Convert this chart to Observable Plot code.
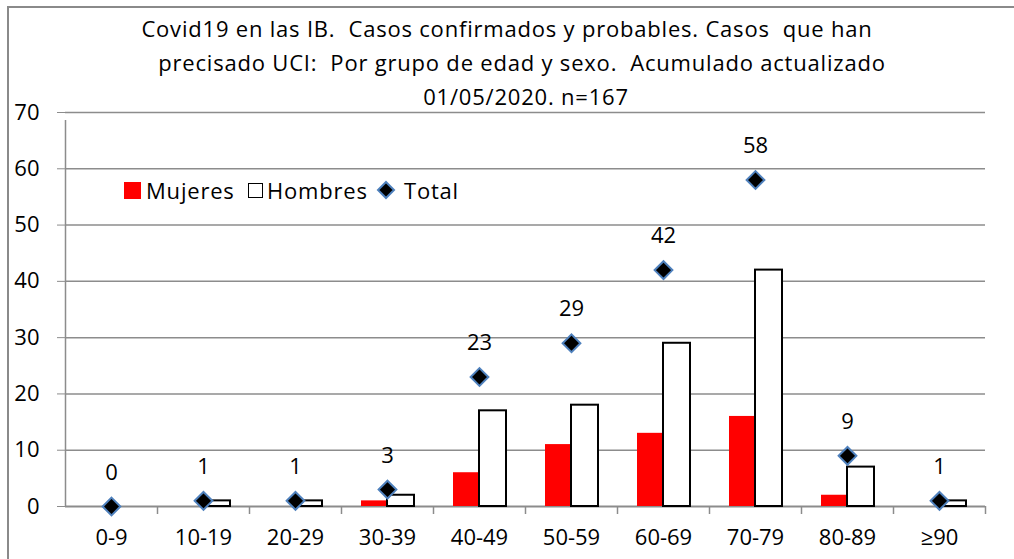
<!DOCTYPE html>
<html><head><meta charset="utf-8">
<script src="https://cdn.jsdelivr.net/npm/d3@7"></script>
<script src="https://cdn.jsdelivr.net/npm/@observablehq/plot@0.6"></script>
<style>
body{margin:0;overflow:hidden;background:#fff;font-family:"Open Sans",sans-serif;}
#wrap{position:relative;width:1014px;height:559px;overflow:hidden;}
#frame{position:absolute;left:7px;top:6px;width:1100px;height:700px;border:2px solid #8a8a8a;}
.tl{position:absolute;width:1000px;text-align:center;font-size:22px;line-height:34px;color:#000;white-space:nowrap;letter-spacing:0.8px;}
#chart{position:absolute;left:0;top:0;}
.leg{position:absolute;top:175px;font-size:22px;line-height:30px;color:#000;white-space:nowrap;letter-spacing:0.8px;}
.sw{position:absolute;}
</style></head>
<body>
<div id="wrap">
  <div id="frame"></div>
  <div id="chart"></div>
  <div class="tl" style="left:7px;top:11px;">Covid19 en las IB.&nbsp; Casos confirmados y probables. Casos&nbsp; que han</div>
  <div class="tl" style="left:22px;top:45px;">precisado UCI:&nbsp; Por grupo de edad y sexo.&nbsp; Acumulado actualizado</div>
  <div class="tl" style="left:26px;top:79px;">01/05/2020. n=167</div>
  <div class="sw" style="left:124px;top:182px;width:17px;height:17px;background:#ff0000;"></div>
  <div class="leg" style="left:146px;">Mujeres</div>
  <div class="sw" style="left:248px;top:183px;width:13px;height:13px;border:1.5px solid #000;background:#fff;"></div>
  <div class="leg" style="left:267px;">Hombres</div>
  <svg class="sw" style="left:376px;top:180px;" width="20" height="20"><path d="M10,2L18,10L10,18L2,10Z" fill="#000" stroke="#4f81bd" stroke-width="2"/></svg>
  <div class="leg" style="left:404px;">Total</div>
</div>
<script>
const ages = ["0-9","10-19","20-29","30-39","40-49","50-59","60-69","70-79","80-89","≥90"];
const mujeres = [0,0,0,1,6,11,13,16,2,0];
const hombres = [0,1,1,2,17,18,29,42,7,1];
const total = [0,1,1,3,23,29,42,58,9,1];
const yTicks = [0,10,20,30,40,50,60,70];

const rows = ages.map((a,i)=>({age:a, m:mujeres[i], h:hombres[i], t:total[i]}));
const gray = "#8c8c8c";
const half = 46;

const chart = Plot.plot({
  width: 1014,
  height: 559,
  marginLeft: 65,
  marginRight: 29,
  marginTop: 112,
  marginBottom: 53,
  style: {fontFamily: "'Open Sans', sans-serif", fontSize: "22px", background: "transparent", overflow: "visible"},
  x: {domain: ages, padding: 0, label: null},
  y: {domain: [0,70], label: null},
  marks: [
    Plot.ruleY(yTicks.filter(d=>d>0), {stroke: gray, strokeWidth: 1.5}),
    Plot.ruleY([0], {stroke: gray, strokeWidth: 2}),
    Plot.axisY({ticks: yTicks, tickSize: 8, tickPadding: 18, stroke: gray, fontSize: 22, label: null, fill: "#000"}),
    Plot.axisX({tickSize: 0, tickPadding: 23, fontSize: 22, label: null, fill: "#000"}),
    Plot.ruleX(ages, {x: d=>d, dx: -half, y1: 0, y2: d => d === ages[0] ? 70 : 0, insetBottom: -8, stroke: gray, strokeWidth: 1.5}),
    Plot.ruleX([ages[ages.length-1]], {x: d=>d, dx: half, y1: 0, y2: 0, insetBottom: -8, stroke: gray, strokeWidth: 1.5}),
    Plot.barY(rows.filter(d=>d.m>0), {x: "age", y: "m", fill: "#ff0000", insetLeft: 20, insetRight: 47}),
    Plot.barY(rows.filter(d=>d.h>0), {x: "age", y: "h", fill: "#ffffff", stroke: "#000", strokeWidth: 2, insetLeft: 46, insetRight: 19}),
    Plot.dot(rows, {x: "age", y: "t", symbol: "diamond2", r: 8, fill: "#000", stroke: "#4f81bd", strokeWidth: 2}),
    Plot.text(rows, {x: "age", y: "t", text: d => String(d.t), dy: -34, fontSize: 22, fill: "#000"})
  ]
});
document.getElementById("chart").appendChild(chart);
</script>
</body></html>
